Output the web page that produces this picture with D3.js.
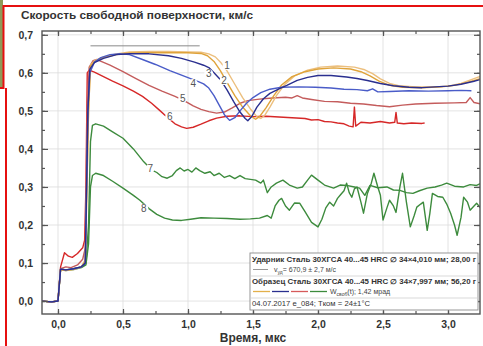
<!DOCTYPE html>
<html>
<head>
<meta charset="utf-8">
<script src="https://cdn.jsdelivr.net/npm/d3@7"></script>
<style>
html,body{margin:0;padding:0;background:#fff;}
svg{display:block;font-family:"Liberation Sans",Arial,sans-serif;}
</style>
</head>
<body>
<svg id="chart" width="483" height="346"></svg>
<script>
// ---------- DATA ----------
const xTicks = [0, 0.5, 1.0, 1.5, 2.0, 2.5, 3.0];
const yTicks = [0, 0.1, 0.2, 0.3, 0.4, 0.5, 0.6, 0.7];
const impactorVelocity = 0.671;           // km/s
const impactorLineSpan = [0.25, 1.09];    // µs

const s1 = [[-0.13,0],[-0.05,-0.002],[0,0],[0.02,0.082],[0.06,0.08],[0.12,0.083],[0.18,0.09],[0.21,0.11],[0.235,0.5],[0.25,0.62],[0.28,0.632],[0.35,0.642],[0.45,0.65],[0.55,0.655],[0.7,0.656],[0.85,0.656],[1.0,0.655],[1.1,0.654],[1.16,0.65],[1.21,0.642],[1.25,0.628],[1.3,0.605],[1.36,0.57],[1.42,0.535],[1.48,0.505],[1.53,0.485],[1.56,0.48],[1.59,0.488],[1.63,0.51],[1.68,0.54],[1.74,0.568],[1.82,0.592],[1.92,0.607],[2.02,0.615],[2.15,0.618],[2.28,0.615],[2.36,0.608],[2.42,0.598],[2.48,0.584],[2.55,0.572],[2.62,0.566],[2.75,0.563],[2.9,0.563],[3.0,0.565],[3.1,0.572],[3.2,0.585],[3.3,0.597]];
const s2 = [[-0.13,0],[-0.05,-0.002],[0,0],[0.02,0.083],[0.06,0.081],[0.12,0.084],[0.18,0.09],[0.21,0.105],[0.235,0.5],[0.25,0.618],[0.28,0.63],[0.35,0.64],[0.45,0.648],[0.55,0.652],[0.7,0.653],[0.85,0.653],[1.0,0.653],[1.1,0.651],[1.15,0.645],[1.2,0.63],[1.25,0.605],[1.3,0.575],[1.36,0.54],[1.42,0.51],[1.48,0.487],[1.52,0.478],[1.55,0.485],[1.6,0.508],[1.66,0.54],[1.72,0.568],[1.8,0.59],[1.9,0.603],[2.0,0.61],[2.12,0.613],[2.25,0.61],[2.33,0.603],[2.4,0.592],[2.47,0.578],[2.55,0.567],[2.65,0.562],[2.8,0.561],[2.95,0.563],[3.05,0.567],[3.15,0.575],[3.3,0.59]];
const s3 = [[-0.13,0],[-0.05,-0.002],[0,0],[0.02,0.084],[0.06,0.082],[0.12,0.085],[0.18,0.09],[0.21,0.1],[0.23,0.5],[0.245,0.61],[0.28,0.627],[0.35,0.638],[0.45,0.648],[0.55,0.65],[0.7,0.65],[0.85,0.645],[0.95,0.638],[1.05,0.628],[1.12,0.62],[1.16,0.614],[1.2,0.6],[1.25,0.582],[1.3,0.555],[1.35,0.525],[1.4,0.497],[1.44,0.48],[1.46,0.474],[1.49,0.485],[1.53,0.51],[1.58,0.532],[1.63,0.546],[1.7,0.558],[1.76,0.567],[1.84,0.58],[1.92,0.588],[2.0,0.593],[2.1,0.593],[2.22,0.589],[2.3,0.585],[2.38,0.58],[2.48,0.572],[2.58,0.566],[2.7,0.562],[2.8,0.561],[2.9,0.563],[3.0,0.565],[3.1,0.57],[3.2,0.578],[3.3,0.587]];
const s4 = [[-0.13,0],[-0.05,-0.002],[0,0],[0.02,0.084],[0.06,0.082],[0.12,0.085],[0.18,0.09],[0.21,0.1],[0.23,0.5],[0.245,0.6],[0.28,0.628],[0.33,0.64],[0.4,0.648],[0.48,0.65],[0.55,0.648],[0.65,0.635],[0.75,0.622],[0.86,0.606],[0.95,0.594],[1.02,0.585],[1.08,0.577],[1.12,0.571],[1.16,0.56],[1.2,0.54],[1.24,0.515],[1.28,0.49],[1.32,0.475],[1.36,0.482],[1.4,0.5],[1.45,0.52],[1.5,0.535],[1.56,0.548],[1.63,0.557],[1.72,0.562],[1.85,0.563],[1.98,0.562],[2.1,0.56],[2.2,0.557],[2.3,0.556],[2.38,0.553],[2.42,0.558],[2.46,0.55],[2.55,0.551],[2.7,0.553],[2.85,0.552],[3.0,0.553],[3.1,0.554],[3.18,0.553]];
const s5 = [[-0.13,0],[-0.05,-0.002],[0,0],[0.02,0.085],[0.06,0.09],[0.1,0.088],[0.15,0.095],[0.19,0.11],[0.21,0.14],[0.225,0.5],[0.24,0.615],[0.27,0.632],[0.3,0.635],[0.4,0.62],[0.5,0.603],[0.6,0.585],[0.7,0.567],[0.8,0.552],[0.9,0.538],[0.97,0.527],[1.04,0.513],[1.1,0.504],[1.16,0.498],[1.22,0.494],[1.28,0.497],[1.34,0.508],[1.4,0.52],[1.46,0.527],[1.55,0.531],[1.65,0.534],[1.75,0.536],[1.8,0.534],[1.84,0.54],[1.88,0.534],[1.95,0.53],[2.05,0.525],[2.15,0.524],[2.25,0.52],[2.35,0.518],[2.45,0.514],[2.55,0.511],[2.65,0.515],[2.75,0.518],[2.9,0.52],[3.05,0.521],[3.14,0.522],[3.17,0.535],[3.2,0.522],[3.3,0.515]];
const s6 = [[-0.13,0],[-0.05,-0.002],[0,0],[0.02,0.09],[0.05,0.127],[0.08,0.118],[0.11,0.115],[0.15,0.125],[0.19,0.14],[0.205,0.16],[0.215,0.3],[0.225,0.6],[0.24,0.607],[0.28,0.602],[0.35,0.59],[0.42,0.578],[0.5,0.566],[0.58,0.552],[0.65,0.538],[0.72,0.52],[0.78,0.502],[0.84,0.483],[0.9,0.466],[0.95,0.458],[0.99,0.454],[1.04,0.457],[1.1,0.465],[1.16,0.474],[1.22,0.481],[1.3,0.486],[1.4,0.487],[1.5,0.485],[1.6,0.486],[1.7,0.484],[1.8,0.482],[1.9,0.48],[1.95,0.476],[2.0,0.477],[2.05,0.472],[2.1,0.471],[2.15,0.468],[2.2,0.466],[2.24,0.46],[2.27,0.458],[2.28,0.51],[2.29,0.46],[2.33,0.47],[2.4,0.468],[2.48,0.472],[2.55,0.468],[2.59,0.47],[2.6,0.496],[2.61,0.468],[2.66,0.466],[2.72,0.468],[2.8,0.467],[2.82,0.468]];
const s7 = [[-0.13,0],[-0.05,-0.002],[0,0],[0.02,0.085],[0.06,0.082],[0.12,0.085],[0.18,0.09],[0.215,0.1],[0.235,0.2],[0.25,0.42],[0.265,0.462],[0.29,0.466],[0.35,0.46],[0.42,0.445],[0.5,0.428],[0.58,0.4],[0.66,0.366],[0.72,0.345],[0.76,0.338],[0.8,0.327],[0.84,0.323],[0.88,0.33],[0.91,0.343],[0.94,0.35],[0.97,0.342],[1.0,0.346],[1.03,0.339],[1.06,0.35],[1.09,0.343],[1.13,0.336],[1.17,0.34],[1.2,0.33],[1.24,0.336],[1.28,0.325],[1.32,0.33],[1.36,0.322],[1.4,0.33],[1.44,0.322],[1.48,0.32],[1.52,0.318],[1.56,0.31],[1.58,0.318],[1.61,0.285],[1.64,0.3],[1.68,0.31],[1.73,0.318],[1.78,0.305],[1.84,0.297],[1.88,0.3],[1.92,0.318],[1.95,0.331],[2.0,0.318],[2.05,0.305],[2.12,0.297],[2.17,0.305],[2.22,0.304],[2.28,0.3],[2.32,0.297],[2.36,0.278],[2.4,0.304],[2.46,0.298],[2.53,0.3],[2.58,0.292],[2.63,0.291],[2.68,0.285],[2.73,0.283],[2.78,0.29],[2.84,0.297],[2.9,0.3],[2.95,0.305],[2.99,0.31],[3.05,0.302],[3.12,0.3],[3.17,0.306],[3.22,0.304],[3.3,0.318]];
const s8 = [[-0.13,0],[-0.05,-0.002],[0,0],[0.02,0.083],[0.06,0.08],[0.12,0.083],[0.18,0.088],[0.215,0.095],[0.235,0.15],[0.25,0.3],[0.265,0.33],[0.29,0.336],[0.35,0.33],[0.42,0.315],[0.5,0.297],[0.58,0.278],[0.63,0.265],[0.7,0.243],[0.76,0.228],[0.82,0.218],[0.88,0.213],[0.95,0.212],[1.02,0.215],[1.1,0.219],[1.2,0.218],[1.3,0.217],[1.4,0.215],[1.48,0.216],[1.55,0.218],[1.61,0.225],[1.64,0.218],[1.67,0.25],[1.7,0.265],[1.72,0.27],[1.75,0.25],[1.78,0.239],[1.82,0.258],[1.86,0.257],[1.9,0.235],[1.95,0.207],[2.0,0.195],[2.03,0.215],[2.06,0.245],[2.09,0.26],[2.12,0.25],[2.15,0.27],[2.17,0.278],[2.2,0.29],[2.22,0.31],[2.24,0.285],[2.26,0.273],[2.28,0.295],[2.3,0.3],[2.33,0.26],[2.35,0.231],[2.38,0.283],[2.41,0.31],[2.43,0.336],[2.46,0.3],[2.48,0.278],[2.5,0.213],[2.53,0.245],[2.55,0.265],[2.58,0.25],[2.6,0.233],[2.63,0.3],[2.65,0.336],[2.68,0.26],[2.71,0.195],[2.74,0.225],[2.76,0.247],[2.79,0.255],[2.81,0.26],[2.84,0.186],[2.86,0.23],[2.88,0.283],[2.92,0.275],[2.96,0.273],[2.99,0.255],[3.02,0.231],[3.05,0.2],[3.07,0.173],[3.1,0.22],[3.12,0.273],[3.15,0.26],[3.17,0.239],[3.2,0.25],[3.22,0.257],[3.25,0.245],[3.3,0.27]];

const seriesNames = ["1","2","3","4","5","6","7","8"];
const seriesData = [s1, s2, s3, s4, s5, s6, s7, s8];
const seriesColors = ["#ecbf7e","#dfa33a","#2a2f8f","#4a5cc8","#c45c5c","#d62828","#3d8b3d","#3d8b3d"];
// curve label anchor points (time, velocity)
const labelPos = [[1.30,0.619],[1.277,0.58],[1.16,0.598],[1.04,0.572],[0.96,0.533],[0.86,0.486],[0.71,0.349],[0.66,0.244]];

const legendRows = [
  "Ударник  Сталь 30ХГСА 40...45 HRC \u2205 34\u00d74,010 мм; 28,00 г",
  "Образец  Сталь 30ХГСА 40...45 HRC \u2205 34\u00d77,997 мм; 56,20 г",
  "04.07.2017 e_084;  Tком = 24\u00b11\u00b0C"
];
const legendSwatches = ["#e3b04a","#2a2f8f","#d65a5a","#3d8b3d"];

// ---------- LAYOUT ----------
const svg = d3.select("#chart");
const L = 42, R = 480, T = 31, B = 314;
const x = d3.scaleLinear().domain([-0.123, 3.246]).range([L, R]);
const y = d3.scaleLinear().domain([-0.034, 0.71]).range([B, T]);
const fmt = d => d3.format(".1f")(d).replace(".", ",");

// decorative frame (crop marks of the source)
svg.append("rect").attr("x",0).attr("y",0).attr("width",3).attr("height",88).attr("fill","#8f9a58");
const red = "#e61010";
svg.append("path").attr("d","M483,6 H3.5 V88 H0 M6,88 V346").attr("fill","none").attr("stroke",red).attr("stroke-width",2);

// title
svg.append("text").attr("x",21).attr("y",19).attr("font-size",11).attr("font-weight","bold")
  .attr("fill","#333").attr("textLength",232).attr("lengthAdjust","spacingAndGlyphs")
  .text("Скорость свободной поверхности, км/с");

// grid
const grid = svg.append("g").attr("stroke","#dcdcdc").attr("stroke-width",0.8);
xTicks.forEach(t => grid.append("line").attr("x1",x(t)).attr("x2",x(t)).attr("y1",T).attr("y2",B));
yTicks.forEach(v => grid.append("line").attr("y1",y(v)).attr("y2",y(v)).attr("x1",L).attr("x2",R));

// clip
svg.append("clipPath").attr("id","clip").append("rect").attr("x",L).attr("y",T).attr("width",R-L).attr("height",B-T);

// impactor velocity line
svg.append("line").attr("x1",x(impactorLineSpan[0])).attr("x2",x(impactorLineSpan[1]))
  .attr("y1",y(impactorVelocity)).attr("y2",y(impactorVelocity)).attr("stroke","#8a8a8a").attr("stroke-width",1);

// curves
const line = d3.line().x(d => x(d[0])).y(d => y(d[1]));
const gLines = svg.append("g").attr("clip-path","url(#clip)");
const order = [7,6,5,4,0,1,3,2];
order.forEach(i => {
  gLines.append("path").datum(seriesData[i]).attr("d", line)
    .attr("fill","none").attr("stroke",seriesColors[i]).attr("stroke-width",1.4)
    .attr("stroke-linejoin","round");
});

// curve labels
labelPos.forEach((p,i) => {
  const g = svg.append("g");
  g.append("circle").attr("cx",x(p[0])).attr("cy",y(p[1])).attr("r",4.5).attr("fill","#fff");
  g.append("text").attr("x",x(p[0])).attr("y",y(p[1])+3.5).attr("text-anchor","middle")
    .attr("font-size",10).attr("fill","#555").text(seriesNames[i]);
});

// axes
const axCol = "#555";
function styleAxis(g){ g.select(".domain").remove(); g.selectAll("line").attr("stroke",axCol).attr("stroke-width",1.2); }
const xMinor = d3.range(-0.0, 3.3, 0.25).filter(t => t <= 3.246);
const yMinor = d3.range(0, 0.71, 0.05);

svg.append("g").attr("transform",`translate(0,${B})`)
  .call(d3.axisBottom(x).tickValues(xTicks).tickSize(-5).tickPadding(7).tickFormat(fmt))
  .call(styleAxis)
  .call(g => g.selectAll("text").attr("font-size",10.5).attr("font-weight","bold").attr("fill","#333"));
svg.append("g").attr("transform",`translate(0,${B})`)
  .call(d3.axisBottom(x).tickValues(xMinor).tickSize(-3).tickFormat(""))
  .call(styleAxis);
svg.append("g").attr("transform",`translate(0,${T})`)
  .call(d3.axisTop(x).tickValues(xTicks).tickSize(-5).tickFormat(""))
  .call(styleAxis);
svg.append("g").attr("transform",`translate(0,${T})`)
  .call(d3.axisTop(x).tickValues(xMinor).tickSize(-3).tickFormat(""))
  .call(styleAxis);
svg.append("g").attr("transform",`translate(${L},0)`)
  .call(d3.axisLeft(y).tickValues(yTicks).tickSize(-6).tickPadding(9).tickFormat(fmt))
  .call(styleAxis)
  .call(g => g.selectAll("text").attr("font-size",10.5).attr("font-weight","bold").attr("fill","#333"));
svg.append("g").attr("transform",`translate(${L},0)`)
  .call(d3.axisLeft(y).tickValues(yMinor).tickSize(-3).tickFormat(""))
  .call(styleAxis);
svg.append("g").attr("transform",`translate(${R},0)`)
  .call(d3.axisRight(y).tickValues(yTicks).tickSize(-6).tickFormat(""))
  .call(styleAxis);
svg.append("g").attr("transform",`translate(${R},0)`)
  .call(d3.axisRight(y).tickValues(yMinor).tickSize(-3).tickFormat(""))
  .call(styleAxis);

// frame
svg.append("rect").attr("x",L).attr("y",T).attr("width",R-L).attr("height",B-T)
  .attr("fill","none").attr("stroke",axCol).attr("stroke-width",1.4);

// x axis title
svg.append("text").attr("x",253).attr("y",342).attr("text-anchor","middle").attr("font-size",12)
  .attr("font-weight","bold").attr("fill","#333").text("Время, мкс");

// legend
const lg = svg.append("g");
const LX = 250, LY = 253, LW = 228, LH = 57;
lg.append("rect").attr("x",LX).attr("y",LY).attr("width",LW).attr("height",LH)
  .attr("fill","#fff").attr("stroke","#8c8c8c").attr("stroke-width",0.9);
lg.append("line").attr("x1",LX).attr("x2",LX+LW).attr("y1",LY+23).attr("y2",LY+23).attr("stroke","#cfcfcf").attr("stroke-width",0.8);
lg.append("line").attr("x1",LX).attr("x2",LX+LW).attr("y1",LY+45).attr("y2",LY+45).attr("stroke","#cfcfcf").attr("stroke-width",0.8);
const lt = (yy, txt, w, bold) => lg.append("text").attr("x",LX+2).attr("y",yy).attr("font-size",7)
  .attr("font-weight", bold ? "bold" : "normal").attr("fill","#333")
  .attr("textLength",w).attr("lengthAdjust","spacingAndGlyphs").text(txt);
lt(LY+9, legendRows[0], 224, true);
lt(LY+31, legendRows[1], 224, true);
lt(LY+53, legendRows[2], 118, false);
// impactor row
lg.append("line").attr("x1",LX+3).attr("x2",LX+18).attr("y1",LY+16.5).attr("y2",LY+16.5).attr("stroke","#9a9a9a").attr("stroke-width",1);
const vt = lg.append("text").attr("x",LX+24).attr("y",LY+19).attr("font-size",7).attr("fill","#444");
vt.append("tspan").text("v");
vt.append("tspan").attr("font-size",5).attr("dy",1.5).text("уд");
vt.append("tspan").attr("dy",-1.5).text("= 670,9 \u00b1 2,7 м/с");
// sample row swatches
legendSwatches.forEach((c,i) => lg.append("line").attr("x1",LX+3+i*19).attr("x2",LX+20+i*19)
  .attr("y1",LY+38.5).attr("y2",LY+38.5).attr("stroke",c).attr("stroke-width",1.3));
const wt = lg.append("text").attr("x",LX+80).attr("y",LY+41).attr("font-size",7).attr("fill","#444");
wt.append("tspan").text("W");
wt.append("tspan").attr("font-size",5).attr("dy",1.5).text("своб");
wt.append("tspan").attr("dy",-1.5).text("(t);  1,42 мрад");
</script>
</body>
</html>
